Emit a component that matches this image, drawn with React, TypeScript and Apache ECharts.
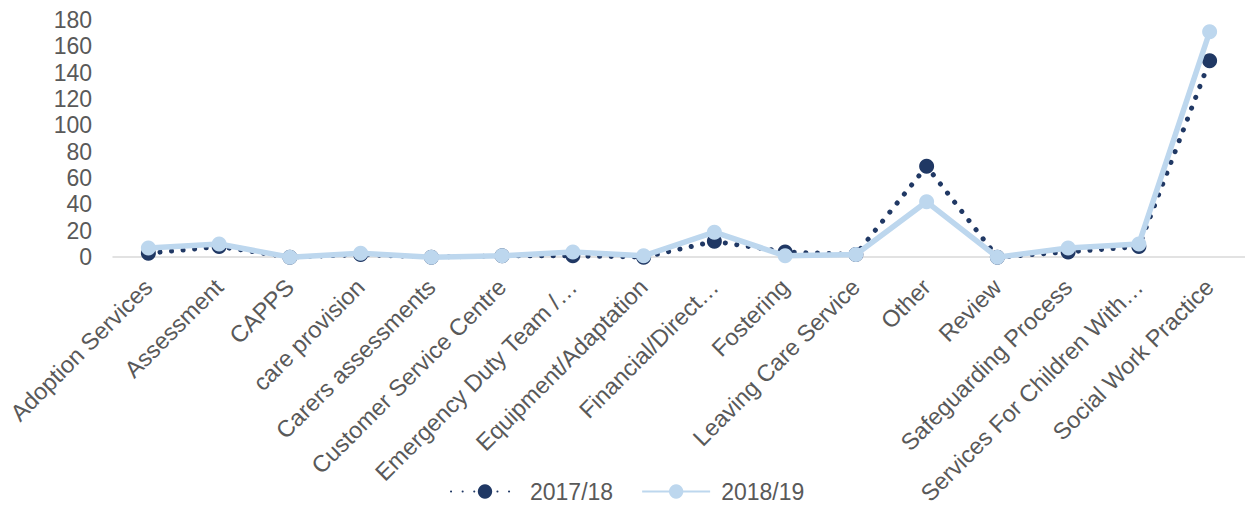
import React, { useEffect, useRef } from "react";
import * as echarts from "echarts";

const categories = [
  "Adoption Services",
  "Assessment",
  "CAPPS",
  "care provision",
  "Carers assessments",
  "Customer Service Centre",
  "Emergency Duty Team /…",
  "Equipment/Adaptation",
  "Financial/Direct…",
  "Fostering",
  "Leaving Care Service",
  "Other",
  "Review",
  "Safeguarding Process",
  "Services For Children With…",
  "Social Work Practice",
];
const series2017 = [3, 8, 0, 2, 0, 1, 1, 0, 12, 4, 2, 69, 0, 4, 8, 149];
const series2018 = [7, 10, 0, 3, 0, 1, 4, 1, 19, 1, 2, 42, 0, 7, 10, 171];
const yTicks = [0, 20, 40, 60, 80, 100, 120, 140, 160, 180];

export default function App() {
  const ref = useRef<HTMLDivElement>(null);
  useEffect(() => {
    if (!ref.current) return;
    const chart = echarts.init(ref.current, null, { renderer: "svg" });
    const font = "Arial, 'Liberation Sans', sans-serif";
    chart.setOption({
      animation: false,
      textStyle: { fontFamily: font },
      grid: { left: 113, right: -3, top: 20, bottom: 250, containLabel: false },
      legend: {
        bottom: 0,
        left: 445,
        itemWidth: 68,
        itemHeight: 18,
        itemGap: 28,
        textStyle: { fontSize: 23, color: "#595959", fontFamily: font, padding: [0, 0, 0, 6] },
        data: ["2017/18", "2018/19"],
      },
      xAxis: {
        type: "category",
        data: categories,
        boundaryGap: true,
        axisLine: { lineStyle: { color: "#d9d9d9", width: 1.5 } },
        axisTick: { show: false },
        axisLabel: {
          rotate: 45,
          interval: 0,
          fontSize: 23.5,
          color: "#595959",
          margin: 26,
          fontFamily: font,
        },
      },
      yAxis: {
        type: "value",
        min: 0,
        max: yTicks[yTicks.length - 1],
        interval: 20,
        splitLine: { show: false },
        axisLine: { show: false },
        axisTick: { show: false },
        axisLabel: { fontSize: 23, color: "#595959", margin: 21, fontFamily: font },
      },
      series: [
        {
          name: "2017/18",
          type: "line",
          data: series2017,
          symbol: "circle",
          symbolSize: 15,
          itemStyle: { color: "#203864" },
          lineStyle: { color: "#203864", width: 5, type: [0.1, 11.5], cap: "round" },
          z: 2,
        },
        {
          name: "2018/19",
          type: "line",
          data: series2018,
          symbol: "circle",
          symbolSize: 15,
          itemStyle: { color: "#bdd7ee" },
          lineStyle: { color: "#bdd7ee", width: 5.5 },
          z: 3,
        },
      ],
    });
    return () => chart.dispose();
  }, []);
  return (
    <div
      ref={ref}
      style={{ position: "absolute", left: 0, top: 0, width: 1245, height: 508 }}
    />
  );
}
